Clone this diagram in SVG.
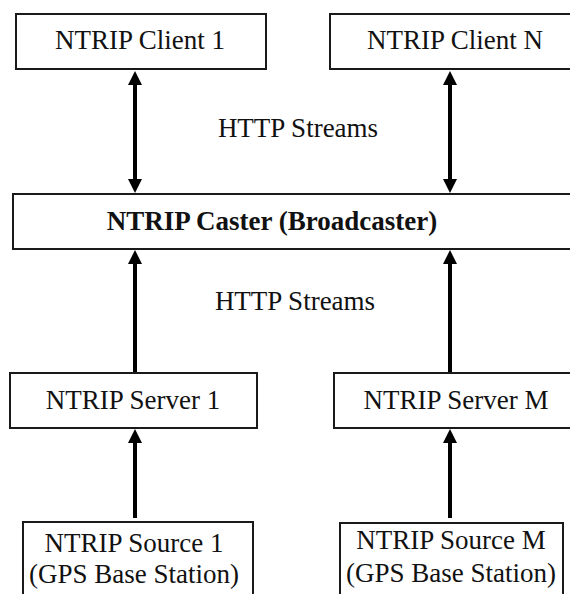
<svg xmlns="http://www.w3.org/2000/svg" width="570" height="594" viewBox="0 0 570 594">
<style>
.box{fill:#fff;stroke:#1a1a1a;stroke-width:2}
.t{font-family:"Liberation Serif","Times New Roman",serif;font-size:27px;fill:#111;text-anchor:middle}
.b{font-weight:bold}
.c{stroke:#000;stroke-width:4;fill:none}
</style>
<defs>
<marker id="ah" markerUnits="userSpaceOnUse" markerWidth="14" markerHeight="14" refX="4" refY="7" orient="auto-start-reverse" viewBox="0 0 14 14">
<path d="M0,0 L14,7 L0,14 z" fill="#000"/>
</marker>
</defs>
<rect width="570" height="594" fill="#fff"/>
<g id="connectors">
<line class="c" x1="135" y1="81" x2="135" y2="183" marker-start="url(#ah)" marker-end="url(#ah)"/>
<line class="c" x1="450" y1="81" x2="450" y2="183" marker-start="url(#ah)" marker-end="url(#ah)"/>
<line class="c" x1="135" y1="373" x2="135" y2="260" marker-end="url(#ah)"/>
<line class="c" x1="450" y1="373" x2="450" y2="260" marker-end="url(#ah)"/>
<line class="c" x1="135" y1="518" x2="135" y2="439" marker-end="url(#ah)"/>
<line class="c" x1="450" y1="518" x2="450" y2="439" marker-end="url(#ah)"/>
</g>
<g id="label-http-1"><text class="t" x="298" y="137">HTTP Streams</text></g>
<g id="label-http-2"><text class="t" x="295" y="310">HTTP Streams</text></g>
<g id="client1"><rect class="box" x="16" y="14" width="250" height="55"/><text class="t" x="140" y="49">NTRIP Client 1</text></g>
<g id="clientN"><rect class="box" x="330" y="14" width="250" height="55"/><text class="t" x="455" y="49">NTRIP Client N</text></g>
<g id="caster"><rect class="box" x="13" y="194" width="570" height="55"/><text class="t b" x="272" y="230">NTRIP Caster (Broadcaster)</text></g>
<g id="server1"><rect class="box" x="10" y="373" width="247" height="55"/><text class="t" x="133" y="409">NTRIP Server 1</text></g>
<g id="serverM"><rect class="box" x="334" y="373" width="250" height="55"/><text class="t" x="456" y="409">NTRIP Server M</text></g>
<g id="source1"><rect class="box" x="23" y="522" width="230" height="80"/><text class="t" x="134" y="552">NTRIP Source 1</text><text class="t" x="134" y="583">(GPS Base Station)</text></g>
<g id="sourceM"><rect class="box" x="340" y="523" width="223" height="80"/><text class="t" x="451" y="549">NTRIP Source M</text><text class="t" x="451" y="582">(GPS Base Station)</text></g>
</svg>
